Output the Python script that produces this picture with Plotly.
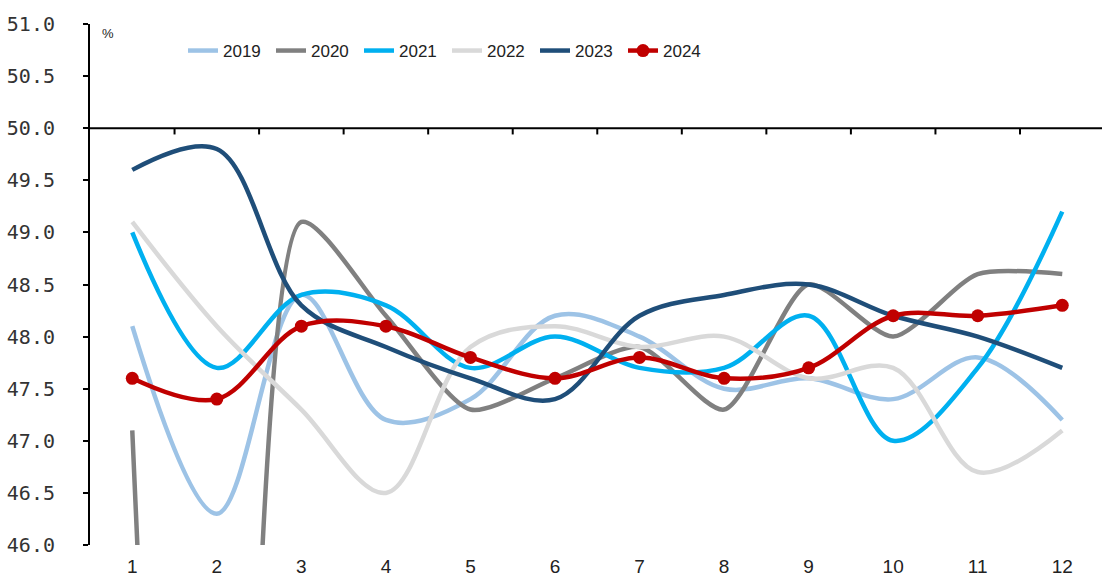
import plotly.graph_objects as go

# Months on the category axis
months = [1, 2, 3, 4, 5, 6, 7, 8, 9, 10, 11, 12]

# Index readings by year (%)
y2019 = [48.1, 46.3, 48.4, 47.2, 47.4, 48.2, 48.0, 47.5, 47.6, 47.4, 47.8, 47.2]
y2020 = [47.1, 32.9, 49.1, 48.2, 47.3, 47.6, 47.9, 47.3, 48.5, 48.0, 48.6, 48.6]
y2021 = [49.0, 47.7, 48.4, 48.3, 47.7, 48.0, 47.7, 47.7, 48.2, 47.0, 47.7, 49.2]
y2022 = [49.1, 48.1, 47.3, 46.5, 47.9, 48.1, 47.9, 48.0, 47.6, 47.7, 46.7, 47.1]
y2023 = [49.6, 49.8, 48.3, 47.9, 47.6, 47.4, 48.2, 48.4, 48.5, 48.2, 48.0, 47.7]
y2024 = [47.6, 47.4, 48.1, 48.1, 47.8, 47.6, 47.8, 47.6, 47.7, 48.2, 48.2, 48.3]

# Y ticks
y_ticks = [46.0, 46.5, 47.0, 47.5, 48.0, 48.5, 49.0, 49.5, 50.0, 50.5, 51.0]
y_ticktext = [f"{v:.1f}" for v in y_ticks]

series = [
    ("2019", y2019, "#9DC3E6", 1.0),
    ("2020", y2020, "#808080", 0.7),
    ("2021", y2021, "#00B0F0", 1.0),
    ("2022", y2022, "#D9D9D9", 1.0),
    ("2023", y2023, "#1F4E79", 1.0),
]

W, H = 1102, 582
ML, MR, MT, MB = 90, 0, 24, 37
PW, PH = W - ML - MR, H - MT - MB

fig = go.Figure()
for name, vals, color, smooth in series:
    fig.add_trace(go.Scatter(
        x=months, y=vals, name=name, mode="lines",
        line=dict(color=color, width=4.5, shape="spline", smoothing=smooth),
    ))

fig.add_trace(go.Scatter(
    x=months, y=y2024, name="2024", mode="lines+markers",
    line=dict(color="#C00000", width=4.5, shape="spline", smoothing=1.0),
    marker=dict(color="#C00000", size=13),
))

# Horizontal reference axis at 50 with boundary ticks between months
shapes = [dict(type="line", xref="paper", yref="y", x0=0, x1=1, y0=50, y1=50,
               line=dict(color="black", width=2), layer="above")]
for m in months[:-1]:
    shapes.append(dict(type="line", xref="x", yref="y", x0=m + 0.5, x1=m + 0.5,
                       y0=50, y1=50 - 0.06, line=dict(color="black", width=2)))

fig.update_layout(
    width=W, height=H,
    margin=dict(l=ML, r=MR, t=MT, b=MB, autoexpand=False),
    plot_bgcolor="white", paper_bgcolor="white",
    shapes=shapes,
    showlegend=True,
    legend=dict(
        orientation="h", xref="paper", yref="paper",
        x=(183 - ML) / PW, xanchor="left",
        y=(H - MB - 51) / PH, yanchor="middle",
        font=dict(family="Liberation Sans", size=17, color="#222222"),
        entrywidth=43, entrywidthmode="pixels",
        bgcolor="rgba(0,0,0,0)", traceorder="normal",
        itemclick=False,
    ),
    annotations=[dict(text="%", xref="paper", yref="paper", x=10 / PW, y=1.0,
                      xanchor="left", yanchor="top", showarrow=False,
                      font=dict(family="Liberation Sans", size=13, color="#222222"))],
)

fig.update_xaxes(
    range=[0.5, 12.47], tickmode="array", tickvals=months,
    ticktext=[str(m) for m in months],
    showline=False, showgrid=False, zeroline=False, ticks="",
    ticklabelstandoff=8,
    tickfont=dict(family="Liberation Sans", size=19, color="#222222"),
)
fig.update_yaxes(
    range=[46, 51], tickmode="array", tickvals=y_ticks, ticktext=y_ticktext,
    showline=True, linecolor="black", linewidth=2,
    ticks="outside", ticklen=5, tickwidth=2, tickcolor="black",
    showgrid=False, zeroline=False,
    ticklabelstandoff=24,
    tickfont=dict(family="DejaVu Sans Mono", size=20, color="#333333"),
)

fig.write_html("out.html")
